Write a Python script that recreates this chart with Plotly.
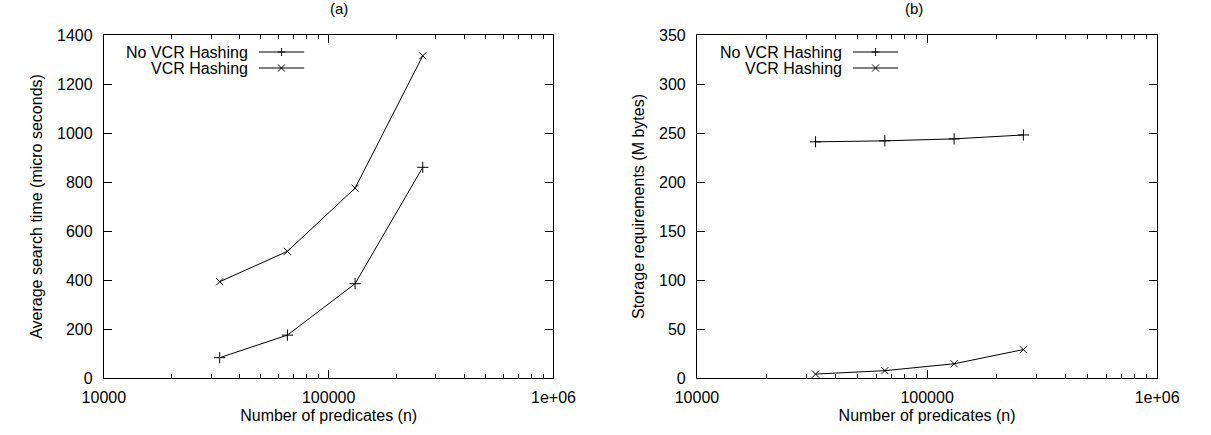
import plotly.graph_objects as go

n_predicates = [32768, 65536, 131072, 262144]
search_no_vcr = [83, 175, 385, 860]
search_vcr = [393, 517, 775, 1315]
storage_no_vcr = [241, 242, 244, 248]
storage_vcr = [4, 7.5, 14.5, 29]

x_tickvals = [1e4, 1e5, 1e6]
x_ticktext = ["10000", "100000", "1e+06"]
x_minor = [k * 10**e for e in (4, 5) for k in range(2, 10)]
left_yticks = [0, 200, 400, 600, 800, 1000, 1200, 1400]
right_yticks = [0, 50, 100, 150, 200, 250, 300, 350]

FONT = "Liberation Sans, Arial, sans-serif"
FS = 16
fig = go.Figure()

line = dict(color="black", width=1)
plus = dict(symbol="cross-thin", size=8, line=dict(color="black", width=1))
cross = dict(symbol="x-thin", size=7, line=dict(color="black", width=1))
fig.add_trace(go.Scatter(x=n_predicates, y=search_no_vcr, mode="lines+markers", line=line,
                         marker=plus, xaxis="x", yaxis="y", showlegend=False))
fig.add_trace(go.Scatter(x=n_predicates, y=search_vcr, mode="lines+markers", line=line,
                         marker=cross, xaxis="x", yaxis="y", showlegend=False))
fig.add_trace(go.Scatter(x=n_predicates, y=storage_no_vcr, mode="lines+markers", line=line,
                         marker=plus, xaxis="x2", yaxis="y2", showlegend=False))
fig.add_trace(go.Scatter(x=n_predicates, y=storage_vcr, mode="lines+markers", line=line,
                         marker=cross, xaxis="x2", yaxis="y2", showlegend=False))

W, H = 1211, 435
TOP, BOT = 35, 378
dom1 = [85 / W, 552 / W]
dom2 = [701 / W, 1179 / W]

def xaxis(domain, anchor):
    return dict(type="log", range=[4, 6], domain=domain, anchor=anchor,
                tickvals=x_tickvals, ticktext=x_ticktext, ticks="inside", ticklen=8,
                tickcolor="black", tickwidth=1, showline=True, linecolor="black", linewidth=1,
                mirror="allticks", showgrid=False, zeroline=False, ticklabelstandoff=5,
                minor=dict(tickvals=x_minor, ticks="inside", ticklen=4, tickcolor="black", showgrid=False),
                tickfont=dict(family=FONT, size=FS, color="black"),
                title=dict(text="Number of predicates (n)", font=dict(family=FONT, size=FS, color="black"),
                           standoff=4))

def yaxis(rng, ticks, anchor, title):
    return dict(range=rng, tickvals=ticks, anchor=anchor, domain=[0, 1],
                ticks="inside", ticklen=8, tickcolor="black", tickwidth=1,
                showline=True, linecolor="black", linewidth=1, mirror="allticks",
                showgrid=False, zeroline=False, ticklabelstandoff=7,
                tickfont=dict(family=FONT, size=FS, color="black"),
                title=dict(text=title, font=dict(family=FONT, size=FS, color="black"), standoff=10))

fig.update_layout(
    width=W, height=H, margin=dict(l=0, r=0, t=TOP, b=H - BOT, pad=0),
    paper_bgcolor="white", plot_bgcolor="white",
    xaxis=xaxis(dom1, "y"), yaxis=yaxis([0, 1400], left_yticks, "x", "Average search time (micro seconds)"),
    xaxis2=xaxis(dom2, "y2"), yaxis2=yaxis([0, 350], right_yticks, "x2", "Storage requirements (M bytes)"),
    showlegend=False,
)

# subplot titles
for txt, xpx in (("(a)", 318), ("(b)", 938)):
    fig.add_annotation(text=txt, x=xpx / W, y=1, xref="paper", yref="paper", yanchor="middle",
                       yshift=TOP - 8, showarrow=False, font=dict(family=FONT, size=15, color="black"))

# gnuplot-style key: text on the left, sample on the right
def add_key(xa, ya, text_right_px, line_l_px, line_r_px, dom):
    x0 = dom[0] * W
    w = (dom[1] - dom[0]) * W
    ph = BOT - TOP
    entries = [("No VCR Hashing", 52, "plus"), ("VCR Hashing", 68, "x")]
    for label, ypx, sym in entries:
        yd = (BOT - ypx) / ph
        fig.add_annotation(text=label, x=(text_right_px - x0) / w, y=yd, xref=xa + " domain",
                           yref=ya + " domain", xanchor="right", yanchor="middle", showarrow=False,
                           xshift=2, font=dict(family=FONT, size=FS, color="black"))
        fig.add_shape(type="line", xref=xa + " domain", yref=ya + " domain",
                      x0=(line_l_px - x0) / w, x1=(line_r_px - x0) / w, y0=yd, y1=yd,
                      line=dict(color="black", width=1))
        cx = (line_l_px + line_r_px) / 2
        if sym == "plus":
            s = 4
            segs = [((cx - s, ypx), (cx + s, ypx)), ((cx, ypx - s), (cx, ypx + s))]
        else:
            s = 3.5
            segs = [((cx - s, ypx - s), (cx + s, ypx + s)), ((cx - s, ypx + s), (cx + s, ypx - s))]
        for (ax, ay), (bx, by) in segs:
            fig.add_shape(type="line", xref=xa + " domain", yref=ya + " domain",
                          x0=(ax - x0) / w, x1=(bx - x0) / w,
                          y0=(BOT - ay) / ph, y1=(BOT - by) / ph,
                          line=dict(color="black", width=1))

add_key("x", "y", 235, 246, 293, dom1)
add_key("x2", "y2", 852, 863, 910, dom2)

fig.write_html("out.html")
